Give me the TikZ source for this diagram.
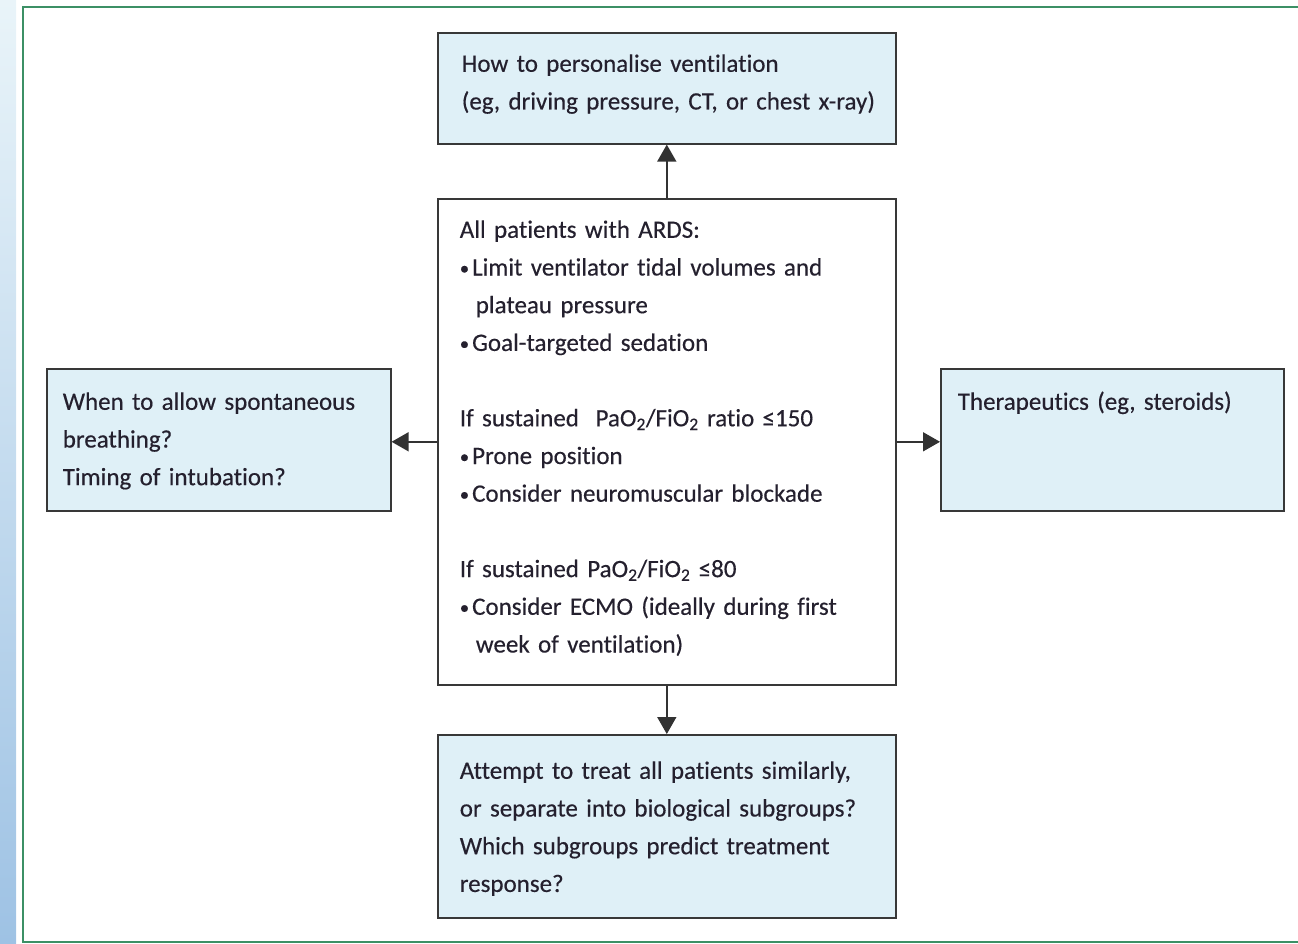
\documentclass[tikz,border=0pt]{standalone}
\usepackage{fontspec}
\setmainfont[Ligatures=NoCommon, WordSpace=0.6, FakeBold=0.35]{Carlito}
\usetikzlibrary{arrows.meta}
\definecolor{boxfill}{HTML}{DFF0F7}
\definecolor{boxline}{HTML}{383838}
\definecolor{txt}{HTML}{24202E}
\definecolor{framegreen}{HTML}{3C9065}
\definecolor{stripTop}{HTML}{E9F4F9}
\definecolor{stripBot}{HTML}{9EC2E4}
\newcommand{\fs}{\fontsize{25pt}{37.7pt}\selectfont}
\newcommand{\fstart}[1]{\rule{0pt}{#1}}
\newcommand{\flast}[1]{\rule[-#1]{0pt}{0pt}}
\newcommand{\bul}{\raisebox{1pt}{\scalebox{0.75}{\textbullet}}\hspace{3pt}}
\tikzset{
  qbox/.style={draw=boxline, fill=boxfill, line width=1.6pt, inner sep=0pt,
    anchor=north west, align=left, font=\fs, text=txt},
  mbox/.style={qbox, fill=white},
  conn/.style={draw=boxline!90!black, line width=1.6pt,
    -{Triangle[length=17pt,width=19pt]}}
}
\begin{document}
\begin{tikzpicture}[x=1pt,y=-1pt]
\useasboundingbox (0,0) rectangle (1298,944);
\clip (0,0) rectangle (1298,944);
\shade[top color=stripTop, bottom color=stripBot] (0,0) rectangle (16,944);
\draw[framegreen, line width=2.5pt] (23,7) rectangle (1330,942);

\node[qbox, text width=458pt] (top) at (437,32)
 {\hspace*{24pt}\fstart{39pt}How to personalise ventilation\\
  \hspace*{24pt}(eg, driving pressure, CT, or chest x-ray)\flast{34.3pt}};

\node[mbox, text width=458pt] (ctr) at (437,198)
 {\hspace*{22pt}\fstart{39pt}All patients with ARDS:\\
  \hspace*{22pt}\bul Limit ventilator tidal volumes and\\
  \hspace*{38pt}plateau pressure\\
  \hspace*{22pt}\bul Goal-targeted sedation\\[37.7pt]
  \hspace*{22pt}If sustained\ \ PaO\textsubscript{2}/FiO\textsubscript{2} ratio ≤150\\
  \hspace*{22pt}\bul Prone position\\
  \hspace*{22pt}\bul Consider neuromuscular blockade\\[37.7pt]
  \hspace*{22pt}If sustained PaO\textsubscript{2}/FiO\textsubscript{2} ≤80\\
  \hspace*{22pt}\bul Consider ECMO (ideally during first\\
  \hspace*{38pt}week of ventilation)\flast{32.3pt}};

\node[qbox, text width=344pt] (left) at (46,368)
 {\hspace*{16pt}\fstart{41pt}When to allow spontaneous\\
  \hspace*{16pt}breathing?\\
  \hspace*{16pt}Timing of intubation?\flast{25.6pt}};

\node[qbox, text width=343pt] (right) at (940,368)
 {\hspace*{17pt}\fstart{41pt}Therapeutics (eg, steroids)\flast{101pt}};

\node[qbox, text width=458pt] (bot) at (437,734)
 {\hspace*{22pt}\fstart{44pt}Attempt to treat all patients similarly,\\
  \hspace*{22pt}or separate into biological subgroups?\\
  \hspace*{22pt}Which subgroups predict treatment\\
  \hspace*{22pt}response?\flast{25.9pt}};

\draw[conn] (ctr.north) -- (top.south);
\draw[conn] (ctr.south) -- (bot.north);
\draw[conn] (ctr.west) -- (left.east |- ctr.west);
\draw[conn] (ctr.east) -- (right.west |- ctr.east);
\end{tikzpicture}
\end{document}
